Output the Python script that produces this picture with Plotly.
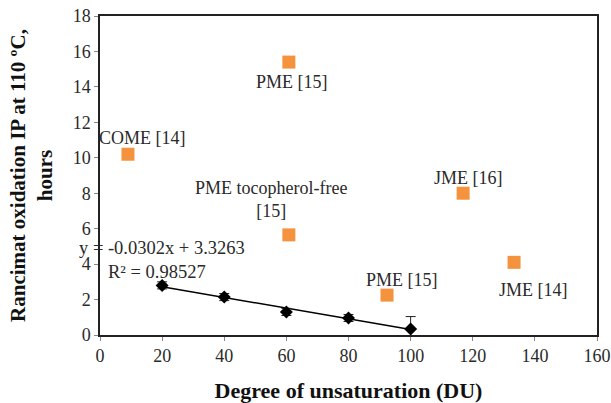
import plotly.graph_objects as go

# Literature data (orange squares)
lit_x = [9.0, 60.8, 60.8, 92.4, 116.9, 133.3]
lit_y = [10.2, 15.4, 5.65, 2.25, 8.0, 4.1]
lit_labels = ["COME [14]", "PME [15]", "PME tocopherol-free<br>[15]", "PME [15]", "JME [16]", "JME [14]"]
lab_x = [13.8, 61.8, 55.2, 97.2, 118.5, 139.4]
lab_y = [11.1, 14.3, 7.65, 3.1, 8.86, 2.54]

# Experimental data (black diamonds)
du = [20, 40, 60, 80, 100]
ip = [2.8, 2.14, 1.3, 0.96, 0.34]
ip_err = [0.2, 0.2, 0.2, 0.2, 0.7]

# Linear trend line
slope = -0.0302
intercept = 3.3263
trend_x = [20, 100]
trend_y = [slope * v + intercept for v in trend_x]

x_ticks = [0, 20, 40, 60, 80, 100, 120, 140, 160]
y_ticks = [0, 2, 4, 6, 8, 10, 12, 14, 16, 18]

serif = "Liberation Serif, Times New Roman, serif"
txt = "#2a2a2a"

fig = go.Figure()
fig.add_trace(go.Scatter(
    x=lit_x, y=lit_y, mode="markers",
    marker=dict(symbol="square", size=13, color="#F5923E"),
    showlegend=False, cliponaxis=False))
fig.add_trace(go.Scatter(
    x=trend_x, y=trend_y, mode="lines",
    line=dict(color="black", width=1.5), showlegend=False))
fig.add_trace(go.Scatter(
    x=du, y=ip, mode="markers",
    marker=dict(symbol="diamond", size=10, color="black"),
    error_y=dict(type="data", array=ip_err, color="#222", thickness=1, width=5),
    showlegend=False, cliponaxis=False))

for t, x, y in zip(lit_labels, lab_x, lab_y):
    fig.add_annotation(x=x, y=y, text=t, showarrow=False,
                       font=dict(family=serif, size=18, color=txt))

# trend equation (starts left of the y axis, so positioned in paper coords)
fig.add_annotation(xref="paper", yref="y", x=-0.046, y=4.91,
                   text="y = -0.0302x + 3.3263", showarrow=False,
                   xanchor="left", font=dict(family=serif, size=18.5, color=txt))
fig.add_annotation(x=2.0, y=3.56, text="R² = 0.98527", showarrow=False,
                   xanchor="left", font=dict(family=serif, size=18.5, color=txt))

fig.update_layout(
    width=611, height=403,
    margin=dict(l=100, r=14, t=16, b=68),
    paper_bgcolor="white", plot_bgcolor="white",
    font=dict(family=serif, color=txt),
    xaxis=dict(range=[0, 160], tickvals=x_ticks, showgrid=False, zeroline=False,
               automargin=False,
               showline=True, linecolor="#222", linewidth=1.5, mirror=True,
               ticks="outside", ticklen=4, tickcolor="#888",
               tickfont=dict(family=serif, size=18, color=txt),
               title=dict(text="<b>Degree of unsaturation (DU)</b>",
                          font=dict(family=serif, size=22, color="#111"), standoff=19)),
    yaxis=dict(range=[0, 18], tickvals=y_ticks, showgrid=False, zeroline=False,
               automargin=False,
               showline=True, linecolor="#222", linewidth=1.5, mirror=True,
               ticks="outside", ticklen=4, tickcolor="#888",
               tickfont=dict(family=serif, size=18, color=txt),
               title=dict(text="<b>Rancimat oxidation IP at 110 ºC,<br>hours</b>",
                          font=dict(family=serif, size=21, color="#111"), standoff=14)),
)

fig.write_html("out.html", config={"displayModeBar": False},
               post_script="document.body.style.margin='0';")
